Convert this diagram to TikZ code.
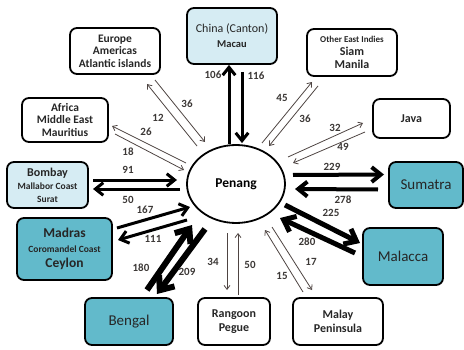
\documentclass[tikz,border=0pt]{standalone}
\usepackage{fontspec}
\setmainfont{Carlito}
\usetikzlibrary{arrows.meta, shapes.geometric}

\definecolor{paleblue}{RGB}{214,236,243}
\definecolor{tealfill}{RGB}{98,186,203}
\definecolor{numgray}{RGB}{60,56,54}
\definecolor{thingray}{RGB}{78,68,66}

\tikzset{
    region/.style={draw, line width=1.8pt, rounded corners=7pt, align=center, inner sep=2pt,
        text=black!85, font=\bfseries\fontsize{11.5}{12.5}\selectfont},
    hub/.style={draw, ellipse, line width=1.8pt, minimum width=98pt, minimum height=78pt,
        inner sep=0pt, font=\bfseries\fontsize{13.5}{14}\selectfont},
    num/.style={inner sep=1pt, text=numgray, font=\bfseries\fontsize{11}{12}\selectfont},
    thin flow/.style={draw=thingray, line width=0.8pt, -{Straight Barb[length=4pt,width=6pt]}},
    flow/.style={draw=black, line width=#1, -{Straight Barb[length=1.3*#1+4pt,width=2.2*#1+6pt]}},
}

\begin{document}
\begin{tikzpicture}[x=1pt, y=1pt]
    \useasboundingbox (0,0) rectangle (464,349);

    % centre
    \node[hub] (penang) at (236,165) {Penang};

    % trading partners
    \node[region, minimum width=90pt, minimum height=46pt] (europe) at (115,298)
        {Europe\\Americas\\Atlantic islands};
    \node[region, fill=paleblue, minimum width=90pt, minimum height=56pt,
        font=\fontsize{12}{15}\selectfont] (china) at (232,313)
        {China (Canton)\\{\bfseries\fontsize{10.5}{12}\selectfont Macau}};
    \node[region, minimum width=90pt, minimum height=47pt,
        font=\bfseries\fontsize{12}{13}\selectfont] (oei) at (352,296.5)
        {{\fontsize{9}{10.5}\selectfont Other East Indies}\\Siam\\Manila};
    \node[region, minimum width=77pt, minimum height=39pt, font=\bfseries\fontsize{12}{13}\selectfont]
        (java) at (411.5,230.5) {Java};
    \node[region, fill=tealfill, minimum width=74pt, minimum height=46pt,
        font=\fontsize{15}{17}\selectfont] (sumatra) at (426,164) {Sumatra};
    \node[region, fill=tealfill, minimum width=80pt, minimum height=57pt,
        font=\fontsize{15}{17}\selectfont] (malacca) at (403,92.5) {Malacca};
    \node[region, minimum width=90pt, minimum height=47pt, font=\bfseries\fontsize{12}{14.5}\selectfont]
        (malay) at (338,27.5) {Malay\\Peninsula};
    \node[region, minimum width=72pt, minimum height=47pt, font=\bfseries\fontsize{12}{14.5}\selectfont]
        (rangoon) at (234,27.5) {Rangoon\\Pegue};
    \node[region, fill=tealfill, minimum width=88pt, minimum height=47pt,
        font=\fontsize{15}{17}\selectfont] (bengal) at (129,27.5) {Bengal};
    \node[region, fill=tealfill, minimum width=95pt, minimum height=62pt,
        font=\bfseries\fontsize{13.5}{15}\selectfont] (madras) at (64.5,100)
        {Madras\\{\fontsize{9.5}{11}\selectfont Coromandel Coast}\\Ceylon};
    \node[region, fill=paleblue, minimum width=81pt, minimum height=46pt,
        font=\bfseries\fontsize{12}{13}\selectfont] (bombay) at (47.5,164)
        {Bombay\\{\fontsize{9.5}{11}\selectfont Mallabor Coast}\\{\fontsize{9.5}{11}\selectfont Surat}};
    \node[region, minimum width=86pt, minimum height=44pt] (africa) at (65,229)
        {Africa\\Middle East\\Mauritius};

    % China
    \draw[flow=3pt] ([xshift=-7pt]penang.north) -- ([xshift=-3pt]china.south);
    \draw[flow=3pt] ([xshift=10pt,yshift=-7pt]china.south) -- ([xshift=6pt,yshift=1pt]penang.north);
    \node[num] (n106) at (213,274) {106};
    \node[num] (n116) at (256,273) {116};

    % Europe
    \draw[thin flow] ([shift={(-39,38)}]penang.center) -- ([shift={(32,-33)}]europe.center);
    \draw[thin flow] ([shift={(40,-29)}]europe.center) -- ([shift={(-31,42)}]penang.center);
    \node[num] (n36a) at (187,245) {36};
    \node[num] (n12) at (158,231) {12};

    % Africa
    \draw[thin flow] ([shift={(-50,21)}]penang.center) -- ([shift={(47,-6)}]africa.center);
    \draw[thin flow] ([shift={(50,-14)}]africa.center) -- ([shift={(-52,14)}]penang.center);
    \node[num] (n26) at (146,217) {26};
    \node[num] (n18) at (128,197) {18};

    % Bombay
    \draw[flow=3pt] ([shift={(45.5,5)}]bombay.center) -- ([shift={(-59,4)}]penang.center);
    \draw[flow=3pt] ([shift={(-56,-5)}]penang.center) -- ([shift={(45.5,-4)}]bombay.center);
    \node[num] (n91) at (128,179) {91};
    \node[num] (n50a) at (128,149) {50};

    % Madras
    \draw[flow=3pt] ([shift={(52.5,21)}]madras.center) -- ([shift={(-46,-23)}]penang.center);
    \draw[flow=3pt] ([shift={(-49,-36)}]penang.center) -- ([shift={(53.5,9)}]madras.center);
    \node[num] (n167) at (145,139) {167};
    \node[num] (n111) at (153,110) {111};

    % Bengal
    \draw[flow=6pt] ([shift={(18,31.5)}]bengal.center) -- ([shift={(-44,-41)}]penang.center);
    \draw[flow=6pt] ([shift={(-31,-45)}]penang.center) -- ([shift={(28,27.5)}]bengal.center);
    \node[num] (n180) at (141,81) {180};
    \node[num] (n209) at (187,77) {209};

    % Rangoon
    \draw[thin flow] ([shift={(-9,-49)}]penang.center) -- ([shift={(-7,31.5)}]rangoon.center);
    \draw[thin flow] ([shift={(4,26.5)}]rangoon.center) -- ([shift={(2,-49)}]penang.center);
    \node[num] (n34) at (213,87) {34};
    \node[num] (n50b) at (250,84) {50};

    % Malay Peninsula
    \draw[thin flow] ([shift={(-35,29.5)}]malay.center) -- ([shift={(29,-46)}]penang.center);
    \draw[thin flow] ([shift={(36,-43)}]penang.center) -- ([shift={(-26,31.5)}]malay.center);
    \node[num] (n15) at (282,73) {15};
    \node[num] (n17) at (311,87) {17};

    % Malacca
    \draw[flow=5pt] ([shift={(49,-21)}]penang.center) -- ([shift={(-43,13.5)}]malacca.center);
    \draw[flow=5pt] ([shift={(-48,3.5)}]malacca.center) -- ([shift={(44,-34)}]penang.center);
    \node[num] (n225) at (331,136) {225};
    \node[num] (n280) at (307,107) {280};

    % Sumatra
    \draw[flow=4pt] ([shift={(57,9)}]penang.center) -- ([shift={(-42,10.5)}]sumatra.center);
    \draw[flow=4pt] ([shift={(-48,-4.5)}]sumatra.center) -- ([shift={(59,-5)}]penang.center);
    \node[num] (n229) at (332,182) {229};
    \node[num] (n278) at (343,149) {278};

    % Java
    \draw[thin flow] ([shift={(52,27)}]penang.center) -- ([shift={(-48.5,-4.5)}]java.center);
    \draw[thin flow] ([shift={(-46.5,-13.5)}]java.center) -- ([shift={(57,21)}]penang.center);
    \node[num] (n32) at (335,221) {32};
    \node[num] (n49) at (343,202) {49};

    % Other East Indies
    \draw[thin flow] ([shift={(26,41)}]penang.center) -- ([shift={(-40,-29.5)}]oei.center);
    \draw[thin flow] ([shift={(-34,-33.5)}]oei.center) -- ([shift={(33,38)}]penang.center);
    \node[num] (n45) at (282,251) {45};
    \node[num] (n36b) at (305,230) {36};
\end{tikzpicture}
\end{document}
